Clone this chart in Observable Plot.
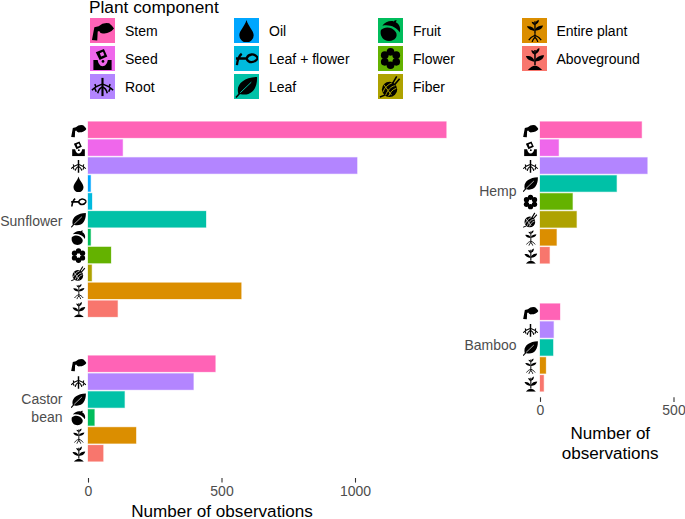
<!DOCTYPE html>
<html><head><meta charset="utf-8">
<script src="https://cdn.jsdelivr.net/npm/d3@7"></script>
<script src="https://cdn.jsdelivr.net/npm/@observablehq/plot@0.6"></script>
<style>
html,body{margin:0;padding:0;background:#fff;font-family:"Liberation Sans",Arial,sans-serif}
#root{position:relative;width:685px;height:519px;overflow:hidden}
.panel{position:absolute}
.lt{position:absolute;font-size:17.3px;color:#000;left:89px;top:0;line-height:15px;padding-bottom:4px;white-space:nowrap}
.key{position:absolute;width:25px;height:25px}
.key svg{position:absolute;left:1px;top:1px;width:23px;height:23px}
.lab{position:absolute;font-size:14px;color:#000;line-height:16px;white-space:nowrap}
</style></head><body><div id="root"></div>
<script>
const components = ["Stem","Seed","Root","Oil","Leaf + flower","Leaf","Fruit","Flower","Fiber","Entire plant","Aboveground"];
const colors = ["#FF63B6","#EF67EB","#B385FF","#00A6FF","#00BADE","#00C1A7","#00BD5C","#64B200","#AEA200","#DB8E00","#F8766D"];

const sunflowerParts = components;
const sunflowerCounts = [1342,130,1008,10,15,442,10,86,14,574,111];
const castorParts = ["Stem","Root","Leaf","Fruit","Entire plant","Aboveground"];
const castorCounts = [477,395,137,24,180,57];
const hempParts = ["Stem","Seed","Root","Leaf","Flower","Fiber","Entire plant","Aboveground"];
const hempCounts = [381,70,402,287,122,137,62,36];
const bambooParts = ["Stem","Root","Leaf","Entire plant","Aboveground"];
const bambooCounts = [75,51,49,22,14];

const axisTitle = "Number of observations";
const axisTitleWrapped = "Number of\nobservations";

const leaves = `<path d="M12.5 3V19" stroke="#000" stroke-width="1.6" fill="none"/><path d="M12.5 7C13 3.5 15 2 17 1C17.5 4 15.5 6.5 12.5 7.5Z"/><path d="M12.5 8C10.5 7.5 9 6 8.5 3.5C11 3.5 12.5 5 12.5 8Z"/><path d="M12.5 14C14 10 18 8.5 22 8.5C21.5 12.5 17.5 15 12.5 15Z"/><path d="M12 15.5C8 15 4 13 3 9.5C8 9 11.5 11 12 15.5Z"/>`;
const icons = {
  "Stem": `<path d="M1 22L3.5 8.5L8 7.5Q13 3 19 4.5Q22 7 24 10Q20 15 14 15Q10 16 8.5 12.5L7 13L6.5 22.5Z"/>`,
  "Seed": `<path fill-rule="evenodd" d="M5 5.5L13.5 2L17 10L9 13.5ZM9.2 6.5L10.5 10L14 8.5L12.5 5Z"/><path d="M2.5 24V13.5H7C7.5 17 9.5 20 12 20C15 20 17 17 17.5 13.5H21.5V24Z"/><circle cx="12.5" cy="15" r="1.4"/>`,
  "Root": `<path d="M12 3V22" stroke="#000" stroke-width="2.2" fill="none"/><path d="M12 9.5C8 11 4 12 1 16M12 9.5C16 11 20 12 23 16M12 12.5C9 13.5 8 15 7 19M12 12.5C15 13.5 16 15 17 19M5 12L4 9.5M19 12L20 9.5M4 14L5.5 17.5M20 14L18.5 17.5" stroke="#000" stroke-width="1.6" fill="none"/>`,
  "Oil": `<path d="M12 1C14 8 19.5 12 19.5 17A7.5 7.5 0 0 1 4.5 17C4.5 12 10 8 12 1Z"/>`,
  "Leaf + flower": `<path d="M2 19Q3 10 7 7M1 12H12M12 12C14 7 20 6 24 11.5C20 17.5 14 17 12 12Z" stroke="#000" stroke-width="2.4" fill="none"/>`,
  "Leaf": `<mask id="lfm"><rect width="24" height="24" fill="#fff"/><path d="M5.5 18.5L17 7.5" stroke="#000" stroke-width="1"/></mask><path mask="url(#lfm)" d="M3.5 19.5C0.5 10 9 2.5 23 2C23.5 13 18 22.5 6 20Z"/><path d="M1 23.5L5 19" stroke="#000" stroke-width="1.6"/>`,
  "Fruit": `<path d="M2 11.5C6 7.5 13.5 8 17.5 13.5C20 18 17 22.5 10.5 23C4 23 0.5 17 2 11.5Z"/><path d="M3.5 7C6 3 12 1 15.5 2.5C16 1.5 17 1 18.5 1.5L17.5 3.5C21.5 5.5 23 10 21.5 14C18.5 8.5 11 5.5 3.5 7Z"/>`,
  "Flower": `<circle cx="12" cy="5" r="4"/><circle cx="12" cy="19" r="4"/><circle cx="6" cy="8.5" r="4"/><circle cx="18" cy="8.5" r="4"/><circle cx="6" cy="15.5" r="4"/><circle cx="18" cy="15.5" r="4"/>`,
  "Fiber": `<mask id="fbm"><rect width="24" height="24" fill="#fff"/><path d="M4 18C6 13 9 10 14 8M7 21C9 16 12 12 17 11M10 22C12 18 14 15 18 14M5 10L13 21" stroke="#000" stroke-width="1" fill="none"/></mask><circle cx="11" cy="15" r="8" mask="url(#fbm)"/><path d="M14 9L18.5 1.5M16 10.5L21.5 4" stroke="#000" stroke-width="1.7" fill="none"/><path d="M1 23L6 21" stroke="#000" stroke-width="1.5" fill="none"/>`,
  "Entire plant": `<g transform="translate(1.5 0) scale(.88 .8)">${leaves}</g><path d="M12.5 15V20M12.5 17C10 18 8 19 6 22M12.5 17C15 18 17 19 19 22M12.5 19C11 20.5 10 22 9.5 24M12.5 19C14 20.5 15 22 15.5 24" stroke="#000" stroke-width="1.3" fill="none"/>`,
  "Aboveground": leaves + `<path d="M5 24C7 21.5 10 19.5 12.5 19.5C15 19.5 18 21.5 20 24Z"/>`
};
const iconSvg = name => `<svg xmlns="http://www.w3.org/2000/svg" viewBox="0 0 24 24">${icons[name]}</svg>`;
const iconUri = name => "data:image/svg+xml," + encodeURIComponent(iconSvg(name).replace("<svg ", '<svg width="48" height="48" '));

const root = document.getElementById("root");
const colorOf = Object.fromEntries(components.map((c,i)=>[c,colors[i]]));
const FONT = '"Liberation Sans",Arial,sans-serif';

function panel({name, parts, counts, left, top, rangeH, ml=88, w=488, dom=[0,1000], ticks=null, gap=0, mb=0, title=null, titleDy=0, titleDx=0, labelDy=0, labelDx=-26, pxWide=267}) {
  const rows = parts.map((p,i)=>({part:p,count:counts[i]}));
  const marks = [
    Plot.barX(rows,{x:"count",y:"part",fill:d=>colorOf[d.part],stroke:d=>colorOf[d.part],strokeOpacity:0.3,strokeWidth:1}),
    Plot.image(rows,{x:()=>0,y:"part",src:d=>iconUri(d.part),width:16,height:16,dx:-10}),
    Plot.text([name],{frameAnchor:"left",dx:labelDx,dy:labelDy,textAnchor:"end",lineAnchor:"middle",fontSize:14,fill:"#4D4D4D",lineHeight:1.29})
  ];
  if (ticks) {
    marks.push(Plot.axisX({ticks,tickSize:4.6,tickPadding:3,tickFormat:d=>String(d),fontSize:14,color:"#4D4D4D",stroke:"#333",strokeWidth:1.1,label:null}));
    marks.push(Plot.text([title],{frameAnchor:"bottom",dx:titleDx,dy:titleDy,lineAnchor:"middle",textAnchor:"middle",fontSize:17.1,fill:"#000",lineHeight:1.17}));
  }
  const chart = Plot.plot({
    width:w, height:rangeH+gap+mb,
    marginLeft:ml, marginRight:w-ml-pxWide, marginTop:0, marginBottom:mb, insetBottom:gap,
    style:{fontFamily:FONT,fontSize:"14px",background:"transparent",overflow:"visible"},
    x:{domain:dom,axis:null},
    y:{domain:parts,axis:null,padding:0.09,align:0.5,round:false},
    marks
  });
  const d = document.createElement("div");
  d.className="panel"; d.style.left=left+"px"; d.style.top=top+"px";
  d.appendChild(chart); root.appendChild(d);
}

panel({name:"Sunflower",parts:sunflowerParts,counts:sunflowerCounts,left:0,top:120.4,rangeH:198.5});
panel({name:"Castor\nbean",parts:castorParts,counts:castorCounts,left:0,top:354,rangeH:109,gap:15,mb:41,ticks:[0,500,1000],title:axisTitle,titleDy:32,labelDy:-9.5});
panel({name:"Hemp",parts:hempParts,counts:hempCounts,left:451.5,top:120.4,rangeH:145,w:233.5,dom:[0,500],pxWide:133.5,labelDy:-3,labelDx:-24});
panel({name:"Bamboo",parts:bambooParts,counts:bambooCounts,left:451.5,top:301.7,rangeH:91,gap:4.3,mb:70,w:233.5,dom:[0,500],pxWide:133.5,ticks:[0,500],title:axisTitleWrapped,titleDy:45,titleDx:3,labelDy:-6,labelDx:-24});

// legend
const lt=document.createElement("div");lt.className="lt";lt.textContent="Plant component";root.appendChild(lt);
const colX=[90,234,378,521.5], rowY=[18,46,74];
components.forEach((c,i)=>{
  const col=Math.floor(i/3), row=i%3;
  const k=document.createElement("div");k.className="key";
  k.style.left=colX[col]+"px";k.style.top=rowY[row]+"px";k.style.background=colors[i];
  k.innerHTML=iconSvg(c);root.appendChild(k);
  const t=document.createElement("div");t.className="lab";t.textContent=c;
  t.style.left=(colX[col]+35)+"px";t.style.top=(rowY[row]+5)+"px";root.appendChild(t);
});
</script></body></html>
